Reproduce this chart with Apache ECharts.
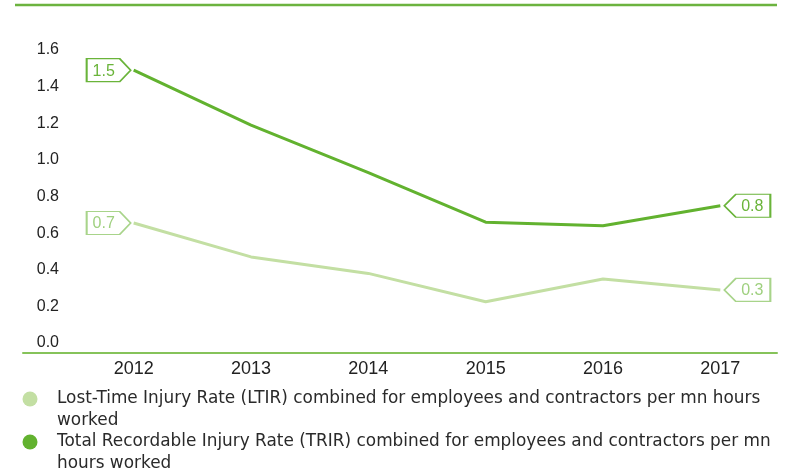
<!DOCTYPE html>
<html>
<head>
<meta charset="utf-8">
<script src="https://cdn.jsdelivr.net/npm/echarts@6/dist/echarts.min.js"></script>
<style>
html,body{margin:0;padding:0;background:#fff;}
#chart{width:787px;height:472px;}
</style>
</head>
<body>
<div id="chart"></div>
<script>
var categories = ['2012', '2013', '2014', '2015', '2016', '2017'];
var ltir = [0.655, 0.47, 0.38, 0.225, 0.35, 0.29];
var trir = [1.49, 1.19, 0.93, 0.66, 0.64, 0.75];
var yTicks = [0, 0.2, 0.4, 0.6, 0.8, 1.0, 1.2, 1.4, 1.6];
var ltirName = 'Lost-Time Injury Rate (LTIR) combined for employees and contractors per mn hours\nworked';
var trirName = 'Total Recordable Injury Rate (TRIR) combined for employees and contractors per mn\nhours worked';

var DARK = '#62b22f';
var LIGHT = '#c3dfa3';
var LIGHT_LABEL = '#9fd07f';
var FONT = 'Liberation Sans, Arial, sans-serif';
var LEGEND_FONT = 'DejaVu Sans, Liberation Sans, sans-serif';

var pathRight = 'path://M0,0 L33,0 L44,11.5 L33,23 L0,23 Z';
var pathLeft = 'path://M11,0 L44,0 L44,23 L11,23 L0,11.5 Z';

function endMarks(values, color, textColor) {
  var last = values.length - 1;
  return {
    silent: true,
    symbolKeepAspect: false,
    animation: false,
    label: {
      show: true,
      position: 'inside',
      color: textColor,
      fontSize: 16,
      fontFamily: FONT,
      formatter: function (p) { return Number(p.value).toFixed(1); }
    },
    itemStyle: { color: '#fff', borderColor: color, borderWidth: 1.5 },
    data: [
      { coord: [categories[0], values[0]], value: values[0], symbol: pathRight, symbolSize: [44, 23], symbolOffset: [-25, 0], label: { offset: [-5, 1] } },
      { coord: [categories[last], values[last]], value: values[last], symbol: pathLeft, symbolSize: [46, 23], symbolOffset: [27, 0], label: { offset: [5, 1] } }
    ]
  };
}

function legendFor(name, top) {
  return {
    data: [name], orient: 'vertical', left: 22.5, top: top, padding: 0,
    icon: 'circle', itemWidth: 44, itemHeight: 15, itemGap: 0, selectedMode: false,
    formatter: function (n) { return '\n' + n; },
    textStyle: { color: '#2a2a2a', fontSize: 16.9, fontFamily: LEGEND_FONT, lineHeight: 22 }
  };
}

var chart = echarts.init(document.getElementById('chart'), null, { renderer: 'canvas' });
chart.setOption({
  animation: false,
  backgroundColor: '#fff',
  graphic: [{
    type: 'line',
    shape: { x1: 15, y1: 5, x2: 777, y2: 5 },
    style: { stroke: '#6cb33f', lineWidth: 2.5 },
    silent: true
  }],
  grid: [
    { left: 75, right: 8, top: 50, bottom: 129 },
    { left: 23, right: 10, top: 50, bottom: 119 }
  ],
  xAxis: [
    {
      type: 'category', gridIndex: 0, data: categories, boundaryGap: true,
      axisLine: { show: false }, axisTick: { show: false },
      axisLabel: { color: '#222', fontSize: 18, fontFamily: FONT, margin: 17 }
    },
    {
      type: 'value', gridIndex: 1, min: 0, max: 1,
      axisLine: { show: true, lineStyle: { color: '#86c35a', width: 2 } },
      axisTick: { show: false }, axisLabel: { show: false }, splitLine: { show: false }
    }
  ],
  yAxis: [
    {
      type: 'value', gridIndex: 0, min: yTicks[0], max: yTicks[yTicks.length - 1], interval: 0.2,
      axisLine: { show: false }, axisTick: { show: false }, splitLine: { show: false },
      axisLabel: { color: '#222', fontSize: 16, fontFamily: FONT, margin: 16,
        formatter: function (v) { return v.toFixed(1); } }
    },
    { type: 'value', gridIndex: 1, show: false, min: 0, max: 1 }
  ],
  legend: [
    legendFor(ltirName, 366),
    legendFor(trirName, 409)
  ],
  series: [
    {
      name: ltirName, type: 'line', xAxisIndex: 0, yAxisIndex: 0, data: ltir,
      showSymbol: false, symbol: 'none', color: LIGHT,
      lineStyle: { color: LIGHT, width: 3 },
      markPoint: endMarks(ltir, '#a8d48a', LIGHT_LABEL)
    },
    {
      name: trirName, type: 'line', xAxisIndex: 0, yAxisIndex: 0, data: trir,
      showSymbol: false, symbol: 'none', color: DARK,
      lineStyle: { color: DARK, width: 3 },
      markPoint: endMarks(trir, '#6ab43a', '#6ab43a')
    }
  ]
});
</script>
</body>
</html>
